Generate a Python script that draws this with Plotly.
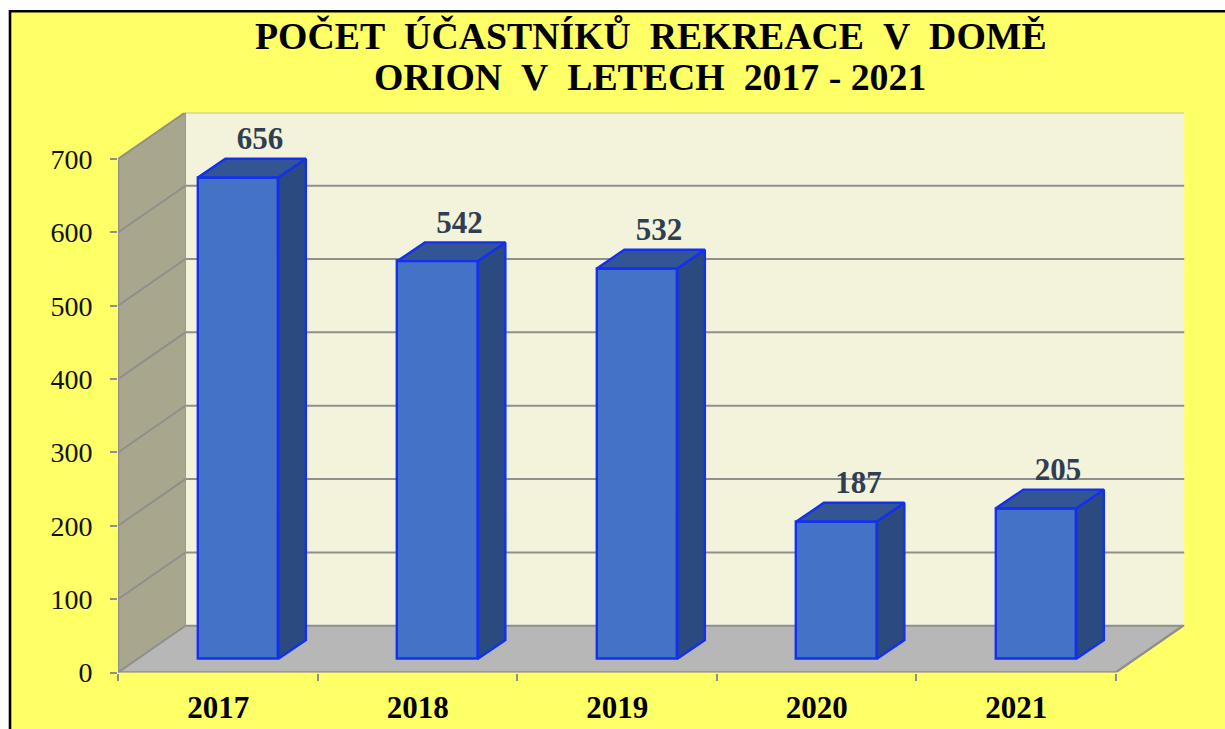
import plotly.graph_objects as go

# ---- data ----
years = ["2017", "2018", "2019", "2020", "2021"]
participants = [656, 542, 532, 187, 205]
y_ticks = [0, 100, 200, 300, 400, 500, 600, 700]
title_lines = ["POČET  ÚČASTNÍKŮ  REKREACE  V  DOMĚ", "ORION  V  LETECH  2017 - 2021"]

# ---- geometry (pixel frame of the axes, and 3D depth in axis units) ----
W, H = 1225, 729
PX_LEFT, PX_RIGHT, PX_BOTTOM, PX_TOP = 118.0, 1184.5, 672.5, 112.7
PX_PER_CAT = 199.5
PX_PER_UNIT = 513.5 / 700
X_MAX = (PX_RIGHT - PX_LEFT) / PX_PER_CAT
Y_MAX = (PX_BOTTOM - PX_TOP) / PX_PER_UNIT
DX, DY = 67.5 / PX_PER_CAT, 46.7 / PX_PER_UNIT       # box depth
BDX, BDY = 27.5 / PX_PER_CAT, 18.7 / PX_PER_UNIT     # bar depth
BAR_W, BAR_OFFSET = 0.4035, 0.602
BAR_BASE = 13.8 / PX_PER_UNIT
N = len(years)
TOP = y_ticks[-1]

GRID = "#8f8f8b"
BLUE = "#1230f0"
SERIF = "Liberation Serif"


def poly(points, fill=None, line=None, width=2):
    path = "M " + " L ".join(f"{x} {y}" for x, y in points)
    if fill:
        path += " Z"
    return dict(type="path", path=path, xref="x", yref="y", layer="below",
                fillcolor=fill or "rgba(0,0,0,0)",
                line=dict(color=line or "rgba(0,0,0,0)", width=width if line else 0))


shapes = [
    dict(type="rect", xref="paper", yref="paper", x0=10 / W, x1=1240 / W, y0=-20 / H, y1=1 - 11.2 / H,
         fillcolor="#ffff66", line=dict(color="#000000", width=2.6), layer="below"),
    poly([(DX, DY), (X_MAX, DY), (X_MAX, TOP + DY), (DX, TOP + DY)], fill="#f3f3dc"),
    poly([(0, 0), (DX, DY), (DX, TOP + DY), (0, TOP)], fill="#a8a78e"),
    poly([(0, 0), (5, 0), (5 + DX, DY), (DX, DY)], fill="#b7b7b7"),
]
for v in y_ticks:
    shapes.append(poly([(0, v), (DX, v + DY), (X_MAX, v + DY)], line=GRID))
shapes.append(poly([(0, TOP), (0, 0), (5, 0), (5 + DX, DY)], line=GRID, width=2.4))
shapes.append(poly([(DX, DY), (DX, TOP + DY)], line="#9b9b8c", width=1))

fig = go.Figure()

xs = [i + BAR_OFFSET for i in range(N)]
fig.add_trace(go.Bar(
    x=xs, y=participants, base=[BAR_BASE] * N, width=BAR_W,
    marker=dict(color="#4472c4", line=dict(color=BLUE, width=2.4)),
    hoverinfo="skip", showlegend=False,
))

for x, v in zip(xs, participants):
    l, r = x - BAR_W / 2, x + BAR_W / 2
    b, t = BAR_BASE, BAR_BASE + v
    fig.add_trace(go.Scatter(
        x=[r, r + BDX, r + BDX, r, r], y=[b, b + BDY, t + BDY, t, b],
        mode="lines", fill="toself", fillcolor="#2a4a80",
        line=dict(color=BLUE, width=2.4), hoverinfo="skip", showlegend=False))
    fig.add_trace(go.Scatter(
        x=[l, l + BDX, r + BDX, r, l], y=[t, t + BDY, t + BDY, t, t],
        mode="lines", fill="toself", fillcolor="#335593",
        line=dict(color=BLUE, width=2.4), hoverinfo="skip", showlegend=False))

fig.add_trace(go.Scatter(
    x=[x + 0.11 for x in xs],
    y=[BAR_BASE + v + 36 / PX_PER_UNIT for v in participants],
    mode="text", text=[str(v) for v in participants], textposition="middle center",
    textfont=dict(family=SERIF, size=31, color="#2f3e52", weight="bold"),
    hoverinfo="skip", showlegend=False, cliponaxis=False))

fig.update_layout(
    width=W, height=H, autosize=False,
    margin=dict(l=0, r=0, t=0, b=0, pad=0),
    paper_bgcolor="#ffffff", plot_bgcolor="rgba(0,0,0,0)",
    showlegend=False, bargap=0, shapes=shapes,
    xaxis=dict(
        domain=[PX_LEFT / W, PX_RIGHT / W], range=[0, X_MAX], fixedrange=True, automargin=False,
        tickmode="array", tickvals=[i + 0.503 for i in range(N)], ticktext=years,
        ticks="", showgrid=False, zeroline=False, showline=False, ticklabelstandoff=13,
        tickfont=dict(family=SERIF, size=31, color="#000000", weight="bold"),
        minor=dict(tickmode="array", tickvals=list(range(N + 1)), ticks="outside",
                   ticklen=7, tickwidth=2, tickcolor=GRID, showgrid=False),
    ),
    yaxis=dict(
        domain=[1 - PX_BOTTOM / H, 1 - PX_TOP / H], range=[0, Y_MAX], fixedrange=True, automargin=False,
        tickmode="array", tickvals=y_ticks, ticktext=[str(v) for v in y_ticks],
        ticks="outside", ticklen=7, tickwidth=2, tickcolor=GRID,
        showgrid=False, zeroline=False, showline=False, ticklabelstandoff=12,
        tickfont=dict(family=SERIF, size=28, color="#111111"),
    ),
    annotations=[
        dict(text=title_lines[0].replace(" ", "\u00a0"), xref="paper", yref="paper",
             x=650.5 / W, y=1 - 35 / H, xanchor="center", yanchor="middle", showarrow=False,
             font=dict(family=SERIF, size=37.8, color="#000000", weight="bold")),
        dict(text=title_lines[1].replace(" ", "\u00a0"), xref="paper", yref="paper",
             x=650 / W, y=1 - 77 / H, xanchor="center", yanchor="middle", showarrow=False,
             font=dict(family=SERIF, size=37.8, color="#000000", weight="bold")),
    ],
)

fig.write_html("out.html", config={"displayModeBar": False},
               post_script="document.body.style.margin='0';document.body.style.overflow='hidden';")
